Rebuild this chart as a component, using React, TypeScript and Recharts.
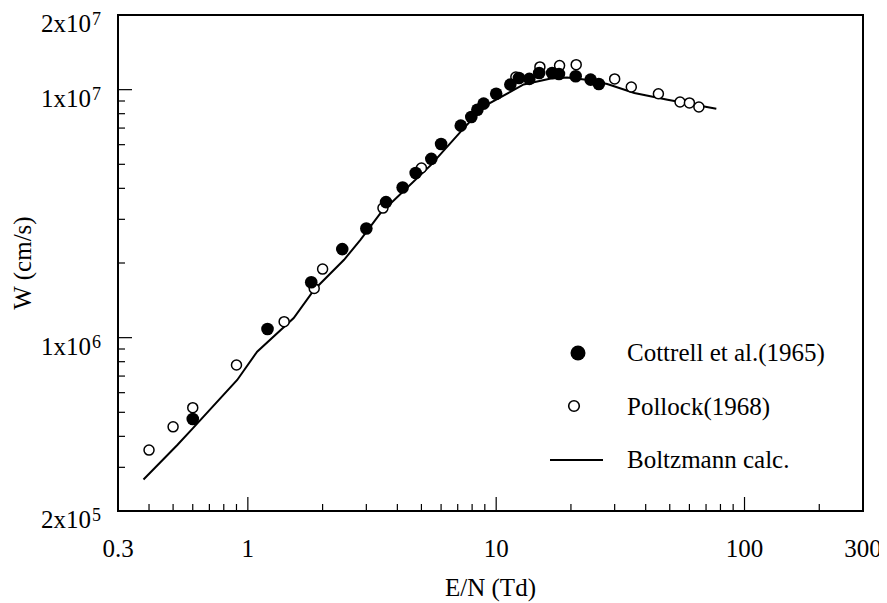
import {
  ScatterChart,
  Scatter,
  XAxis,
  YAxis,
  ReferenceArea,
  Legend,
} from 'recharts'

// drift velocity W (cm/s) vs reduced field E/N (Td)
const cottrellE = [0.6, 1.2, 1.8, 2.4, 3.0, 3.6, 4.2, 4.74, 5.48, 6.0, 7.2, 7.94, 8.4, 8.9, 10, 11.4, 12.35, 13.6, 14.9, 16.8, 17.9, 20.9, 24.0, 25.9]
const cottrellW = [4.7e5, 1.084e6, 1.673e6, 2.275e6, 2.754e6, 3.52e6, 4.03e6, 4.61e6, 5.26e6, 6.04e6, 7.16e6, 7.76e6, 8.3e6, 8.78e6, 9.63e6, 1.048e7, 1.115e7, 1.105e7, 1.168e7, 1.168e7, 1.157e7, 1.132e7, 1.098e7, 1.054e7]

const pollockE = [0.4, 0.5, 0.6, 0.9, 1.4, 1.85, 2.0, 3.5, 5.0, 12, 15, 18, 21, 30, 35, 45, 55, 60, 65.5]
const pollockW = [3.52e5, 4.37e5, 5.22e5, 7.76e5, 1.16e6, 1.58e6, 1.89e6, 3.33e6, 4.83e6, 1.125e7, 1.235e7, 1.25e7, 1.261e7, 1.105e7, 1.025e7, 9.63e6, 8.92e6, 8.84e6, 8.51e6]

const boltzE = [0.38, 0.52, 0.6, 0.906, 1.09, 1.53, 1.85, 2.44, 2.84, 3.42, 4.2, 5.44, 7.41, 9.0, 11.4, 12.9, 16.6, 19.3, 22.6, 28, 36, 49, 77]
const boltzW = [2.68e5, 3.69e5, 4.31e5, 6.75e5, 8.78e5, 1.2e6, 1.56e6, 2.06e6, 2.48e6, 3.18e6, 3.87e6, 4.95e6, 7.0e6, 8.6e6, 9.8e6, 1.05e7, 1.11e7, 1.12e7, 1.1e7, 1.054e7, 9.7e6, 9.11e6, 8.38e6]

const xTicks = [0.3, 0.4, 0.5, 0.6, 0.7, 0.8, 0.9, 1, 2, 3, 4, 5, 6, 7, 8, 9, 10, 20, 30, 40, 50, 60, 70, 80, 90, 100, 200, 300]
const xLabels = [0.3, 1, 10, 100, 300]
const xMajor = [1, 10, 100]

const yTicks = [2e5, 3e5, 4e5, 5e5, 6e5, 7e5, 8e5, 9e5, 1e6, 2e6, 3e6, 4e6, 5e6, 6e6, 7e6, 8e6, 9e6, 1e7, 2e7]
const yLabels: Record<number, [string, string]> = {
  200000: ['2x10', '5'],
  1000000: ['1x10', '6'],
  10000000: ['1x10', '7'],
  20000000: ['2x10', '7'],
}
const yMajor = [1e6, 1e7]

const legendRows = [
  { key: 'cottrell', label: 'Cottrell et al.(1965)' },
  { key: 'pollock', label: 'Pollock(1968)' },
  { key: 'boltz', label: 'Boltzmann calc.' },
]

const FONT = "'Liberation Serif', 'Times New Roman', serif"
const INK = '#000'
const txt = { fontFamily: FONT }

const toPoints = (xs: number[], ys: number[]) => xs.map((e, i) => ({ e, w: ys[i] }))
const cottrell = toPoints(cottrellE, cottrellW)
const pollock = toPoints(pollockE, pollockW)
const boltz = toPoints(boltzE, boltzW)

// inward ticks, longer at each decade
const XTick = ({ x, y, payload }: any) => {
  const v = payload.value
  const edge = v === 0.3 || v === 300
  const len = xMajor.includes(v) ? 14 : 7
  return (
    <g>
      {!edge && <line x1={x} y1={y} x2={x} y2={y - len} stroke={INK} strokeWidth={1.2} />}
      {xLabels.includes(v) && (
        <text x={x} y={y + 46} textAnchor="middle" style={txt} fontSize={25} fill={INK}>
          {v}
        </text>
      )}
    </g>
  )
}

const YTick = ({ x, y, payload }: any) => {
  const v = payload.value
  const edge = v === 2e5 || v === 2e7
  const len = yMajor.includes(v) ? 14 : 7
  const lab = yLabels[v]
  return (
    <g>
      {!edge && <line x1={x} y1={y} x2={x + len} y2={y} stroke={INK} strokeWidth={1.2} />}
      {lab && (
        <g fill={INK}>
          <text x={x - 27} y={y + 17} textAnchor="end" style={txt} fontSize={25}>{lab[0]}</text>
          <text x={x - 26} y={y + 10} textAnchor="start" style={txt} fontSize={18}>{lab[1]}</text>
        </g>
      )}
    </g>
  )
}

const XTitle = ({ viewBox }: any) => (
  <text
    x={viewBox.x + viewBox.width / 2}
    y={viewBox.y + 85}
    textAnchor="middle"
    style={txt}
    fontSize={25}
    fill={INK}
  >
    E/N (Td)
  </text>
)

const YTitle = ({ viewBox }: any) => {
  const cx = viewBox.x + viewBox.width - 96
  const cy = viewBox.y + viewBox.height / 2
  return (
    <text
      x={cx}
      y={cy}
      transform={`rotate(-90 ${cx} ${cy})`}
      textAnchor="middle"
      dominantBaseline="central"
      style={txt}
      fontSize={25}
      fill={INK}
    >
      W (cm/s)
    </text>
  )
}

const FilledDot = ({ cx, cy }: any) => <circle cx={cx} cy={cy} r={6.3} fill={INK} />
const OpenDot = ({ cx, cy }: any) => (
  <circle cx={cx} cy={cy} r={5} fill="#fff" stroke={INK} strokeWidth={1.5} />
)
const NoDot = () => <g />

const LegendBox = () => (
  <div style={{ fontFamily: FONT, fontSize: 25, color: INK }}>
    {legendRows.map((r) => (
      <div key={r.key} style={{ display: 'flex', alignItems: 'center', height: 53.5 }}>
        <svg width={77} height={20} style={{ flex: 'none' }}>
          {r.key === 'cottrell' && <circle cx={28} cy={10} r={7.5} fill={INK} />}
          {r.key === 'pollock' && <circle cx={24} cy={10} r={5.3} fill="#fff" stroke={INK} strokeWidth={1.6} />}
          {r.key === 'boltz' && <line x1={0} y1={10} x2={53} y2={10} stroke={INK} strokeWidth={2} />}
        </svg>
        <span style={{ whiteSpace: 'nowrap', lineHeight: 1 }}>{r.label}</span>
      </div>
    ))}
  </div>
)

export default function App() {
  return (
    <div style={{ width: 879, height: 595, background: '#fff' }}>
      <ScatterChart width={879} height={595} margin={{ top: 7, right: 24, bottom: 52, left: 50 }}>
        <XAxis
          type="number"
          dataKey="e"
          scale="log"
          domain={[0.3, 300]}
          ticks={xTicks}
          interval={0}
          height={40}
          axisLine={false}
          tickLine={false}
          tickSize={0}
          tickMargin={0}
          tick={<XTick />}
          label={XTitle}
        />
        <YAxis
          type="number"
          dataKey="w"
          scale="log"
          domain={[2e5, 2e7]}
          ticks={yTicks}
          interval={0}
          width={60}
          axisLine={false}
          tickLine={false}
          tickSize={0}
          tickMargin={0}
          tick={<YTick />}
          label={YTitle}
        />
        <ReferenceArea x1={0.3} x2={300} y1={2e5} y2={2e7} fill="none" stroke={INK} strokeWidth={2} />
        <Scatter
          name="Boltzmann calc."
          data={boltz}
          line={{ stroke: INK, strokeWidth: 2 }}
          lineJointType="linear"
          shape={<NoDot />}
          isAnimationActive={false}
        />
        <Scatter name="Pollock(1968)" data={pollock} shape={<OpenDot />} isAnimationActive={false} />
        <Scatter name="Cottrell et al.(1965)" data={cottrell} shape={<FilledDot />} isAnimationActive={false} />
        <Legend
          layout="horizontal"
          verticalAlign="middle"
          align="center"
          content={<LegendBox />}
          wrapperStyle={{ left: 542, top: 318, width: 320, height: 'auto', bottom: 'auto', right: 'auto' }}
        />
      </ScatterChart>
    </div>
  )
}
